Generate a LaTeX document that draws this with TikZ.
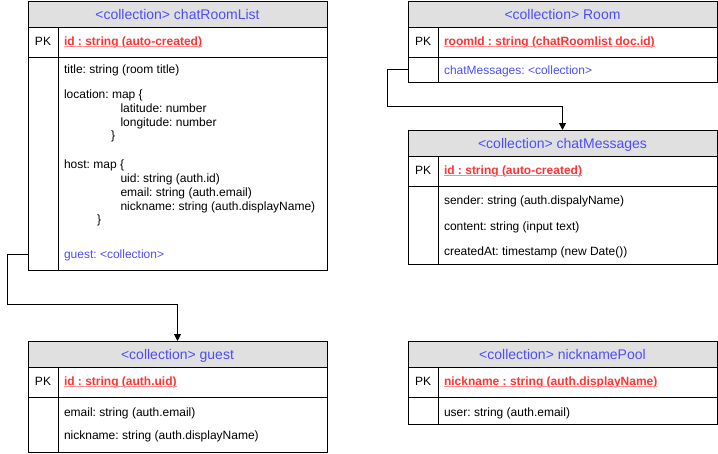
\documentclass[tikz,border=0pt]{standalone}
\usepackage{fontspec}
\setmainfont{Liberation Sans}
\usetikzlibrary{arrows.meta}
\definecolor{hdrfill}{RGB}{224,224,224}
\definecolor{hdrblue}{RGB}{77,77,255}
\definecolor{pkred}{RGB}{255,51,51}
\definecolor{ulred}{RGB}{255,140,140}

% #1 name, #2 x, #3 y, #4 width, #5 body height, #6 title, #7 key text
\newcommand{\mktable}[7]{%
  \node[hdr, minimum width=#4pt] (#1-h) at (#2,#3) {\textless collection\textgreater{} #6};
  \node[cell, minimum width=30pt, minimum height=30pt] (#1-pkc) at (#1-h.south west) {};
  \node[cell, minimum width=#4pt-30pt, minimum height=30pt] (#1-keyc) at (#1-pkc.north east) {};
  \node[cell, minimum width=30pt, minimum height=#5pt] (#1-bl) at (#1-pkc.south west) {};
  \node[cell, minimum width=#4pt-30pt, minimum height=#5pt] (#1-br) at (#1-bl.north east) {};
  \node[txt, anchor=base] (#1-pk) at ([yshift=-3pt]#1-pkc.center) {PK};
  \node[keytxt] (#1-key) at ([xshift=6pt,yshift=-3pt]#1-keyc.west) {#7};
  \draw[ul] ([yshift=-1.8pt]#1-key.base west) -- ([yshift=-1.8pt]#1-key.base east);
}

\begin{document}
\frenchspacing
\begin{tikzpicture}[x=1pt,y=-1pt,
  hdr/.style={draw=black, line width=1pt, fill=hdrfill, minimum height=26pt,
    inner sep=0pt, outer sep=0pt, anchor=north west, text height=10pt, text depth=0pt,
    font=\fontsize{14}{16}\selectfont, text=hdrblue},
  cell/.style={draw=black, line width=1pt, inner sep=0pt, outer sep=0pt, anchor=north west},
  txt/.style={inner sep=0pt, outer sep=0pt, anchor=base west,
    font=\fontsize{12}{14}\selectfont, text=black},
  keytxt/.style={txt, text=pkred, font=\fontsize{12}{14}\selectfont\bfseries},
  linktxt/.style={txt, text=hdrblue},
  ul/.style={draw=ulred, line width=0.8pt},
  conn/.style={draw=black, line width=1pt, -{Triangle[length=7pt,width=7pt]}}
]
\useasboundingbox (0,0) rectangle (718,453);

% chatRoomList
\mktable{crl}{28}{1}{299}{213}{chatRoomList}{id : string (auto-created)}
\node[txt] (crl-title) at (64,73.3) {title: string (room title)};
\node[txt] (crl-loc) at (64,98) {location: map \{};
\node[txt] (crl-lat) at (120.5,112) {latitude: number};
\node[txt] (crl-lon) at (120.5,126) {longitude: number};
\node[txt] (crl-locend) at (111,139.5) {\}};
\node[txt] (crl-host) at (64,168) {host: map \{};
\node[txt] (crl-uid) at (120.5,182) {uid: string (auth.id)};
\node[txt] (crl-email) at (120.5,196) {email: string (auth.email)};
\node[txt] (crl-nick) at (120.5,210) {nickname: string (auth.displayName)};
\node[txt] (crl-hostend) at (97,223.5) {\}};
\node[linktxt] (crl-guest) at (64,258) {guest: \textless collection\textgreater};

% Room
\mktable{room}{408}{1}{309}{25}{Room}{roomId : string (chatRoomlist doc.id)}
\node[linktxt] (room-cm) at (444,74) {chatMessages: \textless collection\textgreater};

% chatMessages
\mktable{cm}{408}{130}{309}{78}{chatMessages}{id : string (auto-created)}
\node[txt] (cm-sender) at (444,204) {sender: string (auth.dispalyName)};
\node[txt] (cm-content) at (444,230) {content: string (input text)};
\node[txt] (cm-created) at (444,255.5) {createdAt: timestamp (new Date())};

% guest
\mktable{guest}{28}{341}{299}{55}{guest}{id : string (auth.uid)}
\node[txt] (guest-email) at (64,416) {email: string (auth.email)};
\node[txt] (guest-nick) at (64,439) {nickname: string (auth.displayName)};

% nicknamePool
\mktable{np}{408}{341}{309}{27}{nicknamePool}{nickname : string (auth.displayName)}
\node[txt] (np-user) at (444,416) {user: string (auth.email)};

% connectors
\draw[conn] (crl-guest.west -| crl-bl.west) -- ++(-21,0) -- ++(0,50) -| (guest-h.north);
\draw[conn] (room-bl.west) -- ++(-21,0) -- ++(0,37) -| (cm-h.north);
\end{tikzpicture}
\end{document}
